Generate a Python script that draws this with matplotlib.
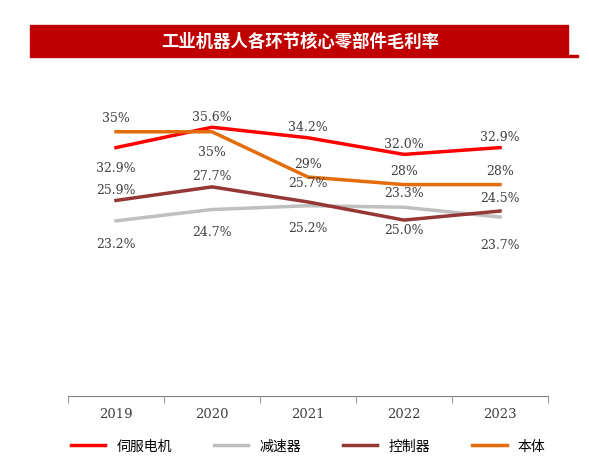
import matplotlib
matplotlib.use("Agg")
import matplotlib.pyplot as plt
from matplotlib.patches import Rectangle

plt.rcParams['font.family'] = ['Noto Sans CJK SC', 'DejaVu Sans']

years = ["2019", "2020", "2021", "2022", "2023"]
servo = [32.9, 35.6, 34.2, 32.0, 32.9]
reducer = [23.2, 24.7, 25.2, 25.0, 23.7]
controller = [25.9, 27.7, 25.7, 23.3, 24.5]
body = [35, 35, 29, 28, 28]

series = [
    ("伺服电机", servo, "#ff0000", "{:.1f}%", [(0, -14), (0, 8), (0, 8), (0, 8), (0, 8)]),
    ("减速器", reducer, "#bfbfbf", "{:.1f}%", [(0, -16), (0, -16), (0, -16), (0, -16), (0, -20)]),
    ("控制器", controller, "#953735", "{:.1f}%", [(0, 8), (0, 8), (0, 14), (0, 20), (0, 10)]),
    ("本体", body, "#e46c0a", "{:.0f}%", [(0, 10), (0, -14), (0, 10), (0, 10), (0, 10)]),
]

fig = plt.figure(figsize=(5.89, 4.64), dpi=100)
fig.patches.append(Rectangle((30/589, 1-58/464), 548/589, 2/464, transform=fig.transFigure, color="#c00000"))
fig.patches.append(Rectangle((30/589, 1-56/464), 538/589, 30/464, transform=fig.transFigure, color="#c00000"))
fig.text(300/589, 1-42/464, "工业机器人各环节核心零部件毛利率", color="white", fontsize=12.5,
         fontweight="bold", ha="center", va="center")

ax = fig.add_axes([68/589, 1-397/464, 480/589, 302/464])
x = list(range(len(years)))
for name, vals, col, fmt, offs in series:
    ax.plot(x, vals, color=col, lw=2.5, label=name)
    for xi, v, (dx, dy) in zip(x, vals, offs):
        ax.annotate(fmt.format(v), (xi, v), xytext=(dx, dy), textcoords="offset points",
                    ha="center", va="center", fontsize=9, color="#404040", family="serif")
ax.set_xlim(-0.5, 4.5)
ax.set_ylim(0, 40)
ax.set_yticks([])
for s in ["top", "right", "left"]:
    ax.spines[s].set_visible(False)
ax.spines["bottom"].set_color("#808080")
ax.set_xticks(x)
ax.set_xticklabels(years, family="serif", fontsize=9.5, color="#404040")
ax.tick_params(axis="x", length=0, pad=8)
ax.set_xticks([-0.5, 0.5, 1.5, 2.5, 3.5, 4.5], minor=True)
ax.tick_params(axis="x", which="minor", length=5, color="#808080")
ax.legend(loc="upper center", bbox_to_anchor=(0.5, -0.1), ncol=4, frameon=False,
          fontsize=10, handlelength=2.5, columnspacing=3)
fig.savefig("out.png", dpi=100)
